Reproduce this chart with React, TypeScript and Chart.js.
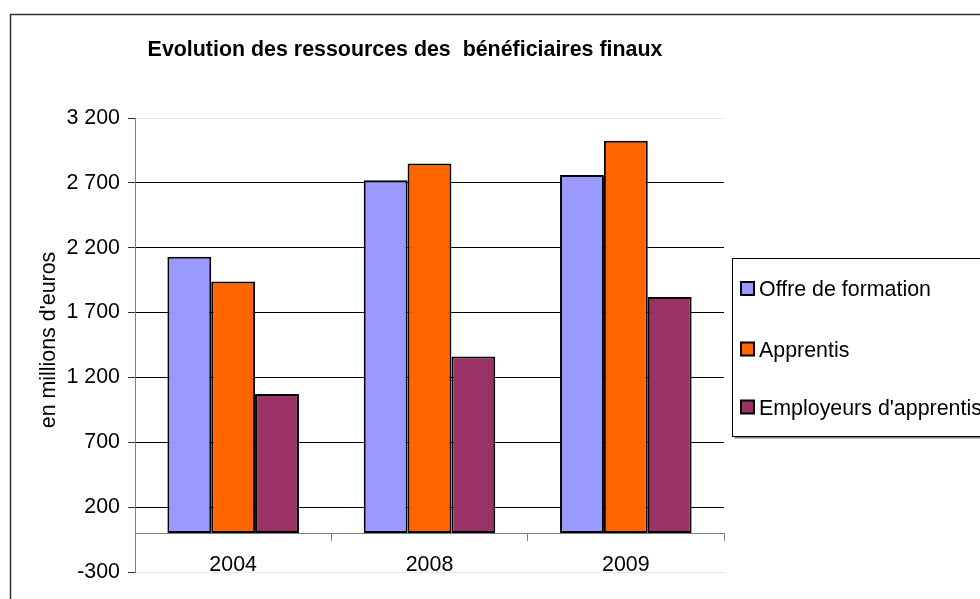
import React, { useEffect, useRef } from 'react';
import { Chart, registerables } from 'chart.js';

Chart.register(...registerables);

// ---- Data ----
const categories = ['2004', '2008', '2009'];
const offreDeFormation = [2130, 2720, 2760];
const apprentis = [1940, 2850, 3025];
const employeursDApprentis = [1072, 1362, 1820];
const seriesNames = ['Offre de formation', 'Apprentis', "Employeurs d'apprentis"];
const seriesColors = ['#9999FF', '#FF6600', '#993366'];
const yMin = -300;
const yMax = 3200;
const yStep = 500;
const titleText = 'Evolution des ressources des  bénéficiaires finaux';
const yAxisTitle = "en millions d'euros";

const FONT_FAMILY = '"Liberation Sans", Arial, Helvetica, sans-serif';
const FONT_SIZE = 21.4;

const formatTick = (v: number) => {
  const s = String(Math.abs(v)).replace(/\B(?=(\d{3})+(?!\d))/g, ' ');
  return (v < 0 ? '-' : '') + s;
};

const decorPlugin = {
  id: 'decor',
  beforeDraw(chart: any) {
    const ctx = chart.ctx;
    ctx.save();
    ctx.fillStyle = '#ffffff';
    ctx.fillRect(0, 0, chart.width, chart.height);
    ctx.strokeStyle = '#333333';
    ctx.lineWidth = 1.5;
    ctx.beginPath();
    ctx.moveTo(10.5, chart.height + 5);
    ctx.lineTo(10.5, 14.5);
    ctx.lineTo(chart.width + 5, 14.5);
    ctx.stroke();
    ctx.restore();
  },
  afterDraw(chart: any) {
    const ctx = chart.ctx;
    ctx.save();
    // Title
    ctx.fillStyle = '#000';
    ctx.font = `bold ${FONT_SIZE}px ${FONT_FAMILY}`;
    ctx.textAlign = 'center';
    ctx.textBaseline = 'alphabetic';
    ctx.fillText(titleText, 405, 56);

    // Y axis title
    ctx.save();
    ctx.translate(55, 340);
    ctx.rotate(-Math.PI / 2);
    ctx.font = `${FONT_SIZE}px ${FONT_FAMILY}`;
    ctx.textAlign = 'center';
    ctx.textBaseline = 'alphabetic';
    ctx.fillText(yAxisTitle, 0, 0);
    ctx.restore();

    // Legend box
    const bx = 732.5, by = 258.5, bw = chart.width, bh = 178;
    ctx.fillStyle = '#808080';
    ctx.fillRect(bx + 2, by + bh, bw, 2);
    ctx.fillStyle = '#ffffff';
    ctx.fillRect(bx, by, bw, bh);
    ctx.strokeStyle = '#000';
    ctx.lineWidth = 1;
    ctx.strokeRect(bx, by, bw, bh);

    const rows = [288.5, 349, 407];
    chart.data.datasets.forEach((ds: any, i: number) => {
      const cy = rows[i];
      ctx.fillStyle = ds.backgroundColor;
      ctx.fillRect(741, cy - 6.5, 13, 13);
      ctx.strokeStyle = '#000';
      ctx.lineWidth = 2;
      ctx.strokeRect(741, cy - 6.5, 13, 13);
      ctx.fillStyle = '#000';
      ctx.font = `${FONT_SIZE}px ${FONT_FAMILY}`;
      ctx.textAlign = 'left';
      ctx.textBaseline = 'alphabetic';
      ctx.fillText(ds.label, 759, cy + 7.5);
    });
    ctx.restore();
  },
};

export default function App() {
  const canvasRef = useRef<HTMLCanvasElement | null>(null);

  useEffect(() => {
    if (!canvasRef.current) return;
    const font = { family: FONT_FAMILY, size: FONT_SIZE };
    const chart = new Chart(canvasRef.current, {
      type: 'bar',
      data: {
        labels: categories,
        datasets: [offreDeFormation, apprentis, employeursDApprentis].map((d, i) => ({
          label: seriesNames[i],
          data: d,
          backgroundColor: seriesColors[i],
          borderColor: '#000',
          borderWidth: 2,
          borderSkipped: false,
          barPercentage: 1,
          categoryPercentage: 0.67,
        })),
      },
      options: {
        animation: false,
        responsive: false,
        maintainAspectRatio: false,
        devicePixelRatio: 1,
        layout: { padding: { left: 0, top: 118, right: 256, bottom: 27 } },
        plugins: {
          legend: { display: false },
          title: { display: false },
          tooltip: { enabled: false },
        },
        scales: {
          x: {
            position: { y: 0 } as any,
            offset: true,
            grid: {
              display: true,
              drawOnChartArea: false,
              drawTicks: true,
              tickLength: 7,
              color: '#808080',
              offset: true,
            },
            border: { display: true, color: '#808080', width: 1 },
            ticks: { font, color: '#000', padding: 12, maxRotation: 0 },
          },
          y: {
            min: yMin,
            max: yMax,
            ticks: {
              stepSize: yStep,
              font,
              color: '#000',
              padding: 8,
              callback: (v: any) => formatTick(Number(v)),
            },
            grid: {
              color: (c: any) =>
                c.tick && (c.tick.value === yMax || c.tick.value === yMin) ? '#e8e8e8' : '#000',
              tickColor: '#333',
              tickLength: 7,
              drawTicks: true,
            },
            border: { display: true, color: '#808080', width: 1 },
            afterFit: (scale: any) => {
              scale.width = 135;
            },
          },
        },
      },
      plugins: [decorPlugin],
    } as any);
    return () => chart.destroy();
  }, []);

  return (
    <div style={{ position: 'fixed', left: 0, top: 0, width: 980, height: 599, background: '#fff' }}>
      <canvas ref={canvasRef} width={980} height={599} style={{ display: 'block', width: 980, height: 599 }} />
    </div>
  );
}
